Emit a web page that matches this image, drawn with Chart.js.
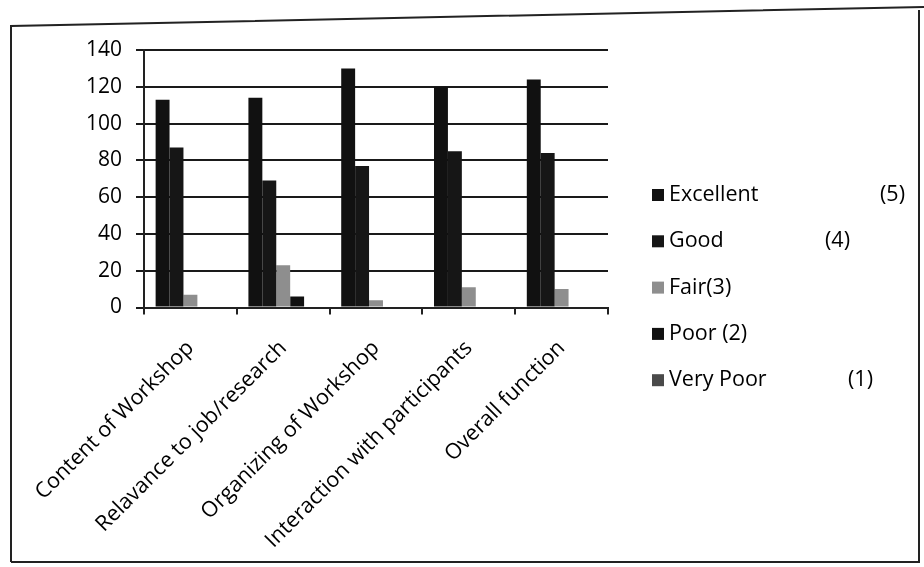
<!DOCTYPE html>
<html lang="en">
<head>
    <meta charset="UTF-8">
    <title>Workshop Feedback</title>
    <script src="https://cdn.jsdelivr.net/npm/chart.js@4.4.0/dist/chart.umd.min.js"></script>
    <style>
        body { margin: 0; background: #fff; }
        #frame { position: absolute; left: 0; top: 0; }
        #wrap { position: absolute; left: 0; top: 0; width: 924px; height: 567px; }
    </style>
</head>
<body>
    <svg id="frame" width="924" height="567">
        <polyline points="11,562 11,26 924,7" fill="none" stroke="#222" stroke-width="2"/>
        <polyline points="11,562 919,562 919,10" fill="none" stroke="#222" stroke-width="2"/>
    </svg>
    <div id="wrap"><canvas id="myChart"></canvas></div>

    <script>
// categories and ratings
const categories = ['Content of Workshop', 'Relavance to job/research', 'Organizing of Workshop',
                    'Interaction with participants', 'Overall function'];
const excellent = [113, 114, 130, 120, 124];
const good      = [87, 69, 77, 85, 84];
const fair      = [7, 23, 4, 11, 10];
const poor      = [0, 6, 0, 0, 0];
const veryPoor  = [0, 0, 0, 0, 0];

const seriesNames = ['Excellent', 'Good', 'Fair(3)', 'Poor (2)', 'Very Poor'];
const seriesCodes = ['(5)', '(4)', '', '', '(1)'];
const yTicks = [0, 20, 40, 60, 80, 100, 120, 140];

// legend drawn on the canvas, the codes sit in their own column like in the scan
const sideLegend = {
    id: 'sideLegend',
    afterDraw(chart) {
        const c = chart.ctx;
        const codeX = [880, 825, 0, 0, 848];
        c.save();
        c.font = '21.5px "Open Sans"';
        c.textBaseline = 'middle';
        chart.data.datasets.forEach((ds, i) => {
            const y = 195 + i * 46.3;
            c.fillStyle = ds.backgroundColor;
            c.fillRect(652, y - 6, 12, 12);
            c.fillStyle = '#000';
            c.fillText(ds.label, 669, y);
            if (seriesCodes[i]) c.fillText(seriesCodes[i], codeX[i], y);
        });
        c.restore();
    }
};

const ctx = document.getElementById('myChart').getContext('2d');

const myChart = new Chart(ctx, {
    type: 'bar',
    data: {
        labels: categories,
        datasets: [
            { label: seriesNames[0], data: excellent, backgroundColor: '#111111' },
            { label: seriesNames[1], data: good, backgroundColor: '#161616' },
            { label: seriesNames[2], data: fair, backgroundColor: '#8e8e8e' },
            { label: seriesNames[3], data: poor, backgroundColor: '#111111' },
            { label: seriesNames[4], data: veryPoor, backgroundColor: '#4a4a4a' }
        ]
    },
    options: {
        responsive: true,
        maintainAspectRatio: false,
        animation: false,
        layout: { padding: { left: 72, right: 316, top: 50, bottom: 2 } },
        datasets: { bar: { categoryPercentage: 0.75, barPercentage: 1.0 } },
        plugins: {
            legend: { display: false },
            tooltip: { enabled: false }
        },
        scales: {
            x: {
                grid: { display: true, drawOnChartArea: false, color: '#222', lineWidth: 2, tickLength: 7, offset: true },
                border: { color: '#222', width: 2 },
                ticks: { color: '#000', font: { family: 'Open Sans', size: 21.5 }, maxRotation: 45, minRotation: 45, padding: 21 }
            },
            y: {
                min: 0,
                max: 140,
                afterBuildTicks: axis => { axis.ticks = yTicks.map(v => ({ value: v })); },
                grid: { color: '#1a1a1a', lineWidth: 2, tickLength: 8 },
                border: { color: '#222', width: 2 },
                ticks: { color: '#000', font: { family: 'Open Sans', size: 21 }, padding: 14 }
            }
        }
    },
    plugins: [sideLegend]
});
    </script>
</body>
</html>
